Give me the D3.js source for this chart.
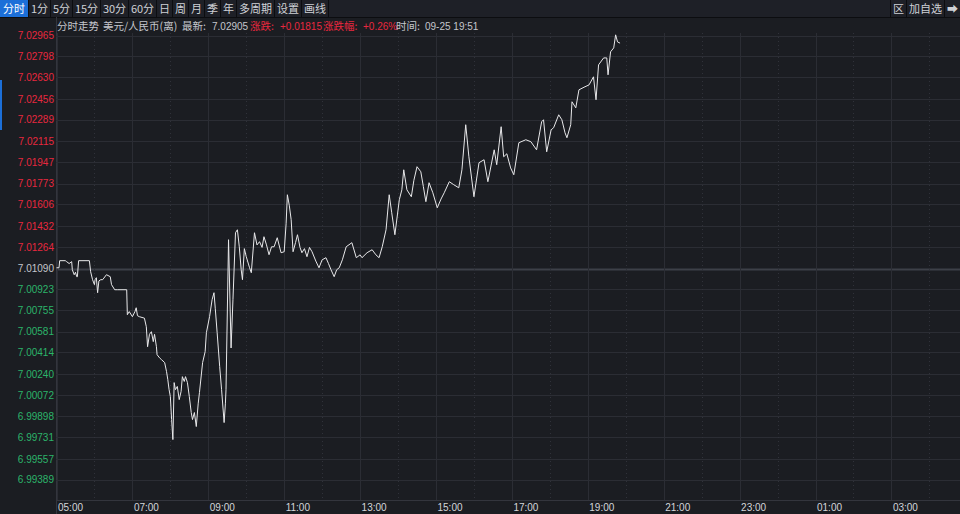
<!DOCTYPE html>
<html><head><meta charset="utf-8">
<script src="https://cdn.jsdelivr.net/npm/d3@7/dist/d3.min.js"></script>
<style>
html,body{margin:0;padding:0;background:#1b1d22;overflow:hidden;}
svg{display:block;}
</style></head>
<body>
<script>
// ---------- data ----------
const prevClose = 7.01090;
const lastPrice = "7.02905";
const change = "+0.01815";
const changePct = "+0.26%";
const timeText = "09-25 19:51";
const title = "美元/人民币(离)";
const toolbarItems = ["分时","1分","5分","15分","30分","60分","日","周","月","季","年","多周期","设置","画线"];
const rightItems = ["区","加自选","➡"];
const yTickLabels = ["7.02965","7.02798","7.02630","7.02456","7.02289","7.02115","7.01947","7.01773","7.01606","7.01432","7.01264","7.01090","7.00923","7.00755","7.00581","7.00414","7.00240","7.00072","6.99898","6.99731","6.99557","6.99389"];
const xTickLabels = ["05:00","07:00","09:00","11:00","13:00","15:00","17:00","19:00","21:00","23:00","01:00","03:00"];
const times = ["05:00","05:04","05:05","05:14","05:16","05:20","05:24","05:25","05:28","05:30","05:32","05:33","05:35","05:52","05:54","05:57","06:00","06:01","06:03","06:05","06:07","06:10","06:13","06:19","06:25","06:27","06:32","06:36","06:51","06:52","06:55","07:00","07:04","07:06","07:08","07:11","07:19","07:22","07:24","07:27","07:30","07:33","07:35","07:38","07:39","07:43","07:46","07:51","07:54","07:56","07:58","08:00","08:02","08:04","08:06","08:08","08:11","08:14","08:17","08:19","08:22","08:24","08:27","08:30","08:33","08:35","08:38","08:41","08:44","08:46","08:51","08:55","08:57","09:02","09:06","09:09","09:11","09:14","09:18","09:21","09:25","09:27","09:28","09:32","09:36","09:39","09:43","09:46","09:49","09:52","09:54","09:57","10:00","10:05","10:08","10:13","10:17","10:21","10:25","10:28","10:32","10:36","10:40","10:44","10:49","10:55","11:00","11:03","11:05","11:08","11:11","11:14","11:18","11:21","11:25","11:28","11:32","11:36","11:40","11:44","11:50","11:55","12:00","12:06","12:10","12:14","12:19","12:23","12:27","12:32","12:38","12:47","12:54","13:00","13:03","13:11","13:19","13:25","13:30","13:35","13:41","13:46","13:50","13:55","14:02","14:06","14:09","14:14","14:21","14:25","14:30","14:36","14:40","14:44","14:49","14:55","15:02","15:08","15:13","15:21","15:28","15:36","15:41","15:47","15:52","16:00","16:08","16:16","16:22","16:32","16:36","16:43","16:47","16:52","16:58","17:03","17:11","17:22","17:30","17:39","17:47","17:50","17:55","18:02","18:06","18:14","18:19","18:24","18:27","18:33","18:35","18:41","18:46","18:54","19:02","19:09","19:13","19:17","19:25","19:30","19:32","19:36","19:41","19:44","19:47","19:51"];
const prices = [7.01096,7.01096,7.01153,7.01153,7.01145,7.01130,7.01145,7.01080,7.01040,7.01060,7.01024,7.01024,7.01153,7.01153,7.01064,7.01000,7.00960,7.01000,7.01016,7.00895,7.00990,7.01000,7.01000,7.01040,7.01024,7.00960,7.00919,7.00919,7.00919,7.00718,7.00743,7.00702,7.00743,7.00774,7.00710,7.00702,7.00690,7.00621,7.00460,7.00560,7.00581,7.00501,7.00560,7.00460,7.00396,7.00370,7.00356,7.00332,7.00259,7.00194,7.00114,7.00058,6.99873,6.99712,7.00171,7.00114,7.00140,7.00034,7.00100,7.00219,7.00180,7.00219,7.00171,7.00058,6.99930,6.99873,6.99930,6.99817,7.00000,7.00090,7.00332,7.00420,7.00573,7.00702,7.00839,7.00895,7.00770,7.00573,7.00300,7.00114,6.99849,7.00000,7.00114,7.01322,7.00450,7.00839,7.01378,7.01402,7.01265,7.01080,7.01000,7.01250,7.01185,7.01100,7.01056,7.01378,7.01280,7.01306,7.01260,7.01346,7.01280,7.01201,7.01265,7.01265,7.01338,7.01217,7.01225,7.01450,7.01684,7.01600,7.01483,7.01225,7.01300,7.01362,7.01260,7.01217,7.01250,7.01185,7.01260,7.01225,7.01150,7.01096,7.01160,7.01177,7.01130,7.01080,7.01024,7.01080,7.01096,7.01160,7.01265,7.01298,7.01177,7.01200,7.01177,7.01217,7.01241,7.01200,7.01177,7.01265,7.01402,7.01684,7.01539,7.01362,7.01644,7.01724,7.01885,7.01724,7.01668,7.01800,7.01910,7.01869,7.01750,7.01628,7.01781,7.01700,7.01579,7.01650,7.01700,7.01789,7.01765,7.01740,7.01885,7.02248,7.01990,7.01668,7.01942,7.01966,7.01789,7.02046,7.01926,7.02232,7.01990,7.02014,7.01900,7.01845,7.02103,7.02127,7.02111,7.02046,7.02272,7.02288,7.02030,7.02207,7.02224,7.02328,7.02288,7.02183,7.02143,7.02248,7.02433,7.02384,7.02529,7.02550,7.02569,7.02634,7.02449,7.02730,7.02786,7.02786,7.02650,7.02835,7.02867,7.02972,7.02915,7.02905];

// ---------- layout ----------
const W = 960, H = 514;
const plotL = 56, plotR = 960, plotT = 33, plotB = 500;
const numFont = "'Liberation Sans', Arial, sans-serif";
const cjkFont = "'Noto Sans CJK SC', 'Liberation Sans', sans-serif";
const RED = "#e8283f", GREEN = "#2cb46a", GREY = "#c4c6cc", GRID = "#2b2d34";

const svg = d3.select("body").append("svg").attr("width", W).attr("height", H)
  .style("background", "#1b1d22");

const toDate = s => {
  const [h, m] = s.split(":").map(Number);
  const d = new Date(2023, 8, 25, h, m);
  if (h < 5) d.setDate(26);
  return d;
};
const x = d3.scaleTime()
  .domain([new Date(2023, 8, 25, 5, 0), new Date(2023, 8, 26, 5, 0)])
  .range([plotL + 0.5, plotL + 0.5 + 12 * 75.9]);
const pxPerUnit = 12416;
const y = d3.scaleLinear()
  .domain([prevClose + (268.5 - plotT) / pxPerUnit, prevClose])
  .range([plotT, 268.5]);

// ---------- toolbar ----------
const tb = svg.append("g");
tb.append("rect").attr("x", 0).attr("y", 0).attr("width", W).attr("height", 17).attr("fill", "#1e2027");
tb.append("line").attr("x1", 0).attr("x2", W).attr("y1", 17.5).attr("y2", 17.5).attr("stroke", "#0c0d10");
const measure = (t, size) => {
  const tmp = tb.append("text").attr("font-family", cjkFont).attr("font-size", size).text(t);
  const w = tmp.node().getComputedTextLength();
  tmp.remove();
  return w;
};
let cx = 0;
toolbarItems.forEach((t, i) => {
  const w = measure(t, 11);
  const bw = Math.round(w + (i === 0 ? 6 : 4));
  if (i === 0) tb.append("rect").attr("x", cx).attr("y", 0).attr("width", bw).attr("height", 17).attr("fill", "#1c6fd8");
  tb.append("text").attr("x", cx + bw / 2).attr("y", 13).attr("text-anchor", "middle")
    .attr("font-family", cjkFont).attr("font-size", 11)
    .attr("fill", i === 0 ? "#ffffff" : "#cfd1d6").text(t);
  cx += bw;
  tb.append("line").attr("x1", cx + 0.5).attr("x2", cx + 0.5).attr("y1", 0).attr("y2", 17).attr("stroke", "#0c0d10");
  cx += 1;
});
let rx = W;
rightItems.slice().reverse().forEach((t) => {
  const w = measure(t, 11);
  const bw = Math.round(w + 4);
  rx -= bw;
  tb.append("text").attr("x", rx + bw / 2).attr("y", 13).attr("text-anchor", "middle")
    .attr("font-family", cjkFont).attr("font-size", 11).attr("fill", "#cfd1d6").text(t);
  rx -= 1;
  tb.append("line").attr("x1", rx + 0.5).attr("x2", rx + 0.5).attr("y1", 0).attr("y2", 17).attr("stroke", "#0c0d10");
});

svg.append("rect").attr("x", 0).attr("y", 80).attr("width", 2).attr("height", 50).attr("fill", "#1c6fd8");
svg.append("line").attr("x1", plotL + 0.5).attr("x2", plotL + 0.5).attr("y1", 17).attr("y2", H).attr("stroke", "#33353d");

// ---------- info line ----------
const info = svg.append("text").attr("y", 30).attr("font-size", 10);
const seg = (xx, txt, col, font, size) => info.append("tspan").attr("x", xx).attr("fill", col)
  .attr("font-family", font).attr("font-size", size).text(txt);
seg(57, "分时走势", GREY, cjkFont, 10.5);
seg(103, title, GREY, cjkFont, 10.5);
seg(182, "最新:", GREY, cjkFont, 10.5);
seg(212, lastPrice, GREY, numFont, 10);
seg(250, "涨跌:", RED, cjkFont, 10.5);
seg(280, change, RED, numFont, 10);
seg(323, "涨跌幅:", RED, cjkFont, 10.5);
seg(363, changePct, RED, numFont, 10);
seg(396, "时间:", GREY, cjkFont, 10.5);
seg(425, timeText, GREY, numFont, 10);

// ---------- grid ----------
const yTicks = yTickLabels.map(Number);
const grid = svg.append("g");
grid.selectAll("line.h").data(yTicks).join("line")
  .attr("x1", plotL).attr("x2", plotR)
  .attr("y1", d => Math.round(y(d)) + 0.5).attr("y2", d => Math.round(y(d)) + 0.5)
  .attr("stroke", d => d === prevClose ? "#3d4048" : GRID)
  .attr("stroke-width", d => d === prevClose ? 2 : 1);

const hourTicks = d3.range(0, 24).map(h => new Date(2023, 8, 25, 5 + h, 0));
grid.selectAll("line.v").data(hourTicks).join("line")
  .attr("x1", d => Math.round(x(d)) + 0.5).attr("x2", d => Math.round(x(d)) + 0.5)
  .attr("y1", plotT).attr("y2", plotB)
  .attr("stroke", (d, i) => i % 2 === 0 ? GRID : "#30323a")
  .attr("stroke-dasharray", (d, i) => i % 2 === 0 ? null : "1,3");

svg.append("line").attr("x1", plotL).attr("x2", plotR).attr("y1", plotB + 0.5).attr("y2", plotB + 0.5).attr("stroke", "#33353d");

// ---------- axes ----------
const yAxis = d3.axisLeft(y).tickValues(yTicks).tickSize(0).tickPadding(0)
  .tickFormat((d, i) => yTickLabels[i]);
const yg = svg.append("g").attr("transform", `translate(${plotL - 2},0)`).call(yAxis);
yg.select(".domain").remove();
yg.selectAll("text")
  .attr("font-family", numFont).attr("font-size", 10)
  .attr("fill", d => d > prevClose + 1e-9 ? RED : (d < prevClose - 1e-9 ? GREEN : GREY));

const xTickDates = xTickLabels.map(toDate);
const xAxis = d3.axisBottom(x).tickValues(xTickDates).tickSize(0).tickPadding(0)
  .tickFormat((d, i) => xTickLabels[i]);
const xg = svg.append("g").attr("transform", `translate(0,${plotB + 3})`).call(xAxis);
xg.select(".domain").remove();
xg.selectAll("text").attr("text-anchor", "start").attr("dx", 1).attr("dy", 8)
  .attr("font-family", numFont).attr("font-size", 10).attr("fill", "#d4d6da");

// ---------- price line ----------
const series = times.map((t, i) => ({ t: toDate(t), v: prices[i] }));
svg.append("defs").append("clipPath").attr("id", "clip")
  .append("rect").attr("x", plotL).attr("y", plotT).attr("width", plotR - plotL).attr("height", plotB - plotT);
svg.append("path").datum(series)
  .attr("clip-path", "url(#clip)")
  .attr("fill", "none").attr("stroke", "#e8e8ea").attr("stroke-width", 1)
  .attr("d", d3.line().x(d => x(d.t)).y(d => y(d.v)).curve(d3.curveLinear));
</script>
</body></html>
